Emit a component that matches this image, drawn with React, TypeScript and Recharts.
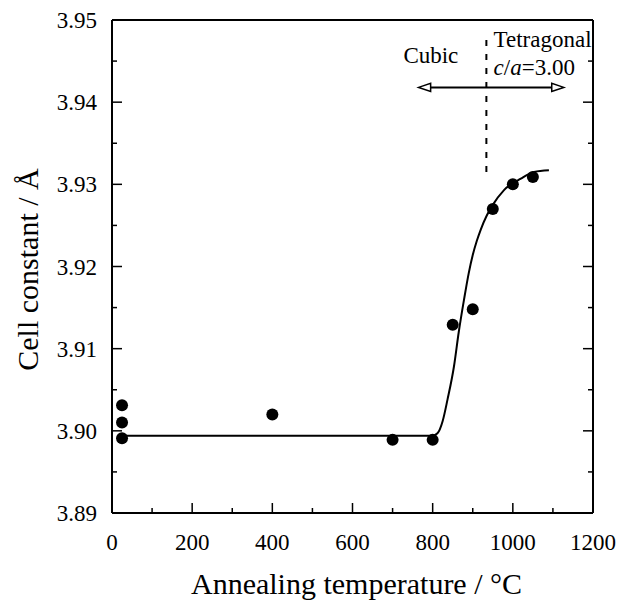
import React from 'react';
import {
  ComposedChart,
  XAxis,
  YAxis,
  Scatter,
  Line,
  ReferenceLine,
  ReferenceDot,
  Label,
} from 'recharts';

// Measured points: annealing temperature (°C) vs cell constant (Å)
const tempC = [25, 25, 25, 400, 700, 800, 850, 900, 950, 1000, 1050];
const cellConst = [3.9031, 3.901, 3.8991, 3.902, 3.8989, 3.8989, 3.9129, 3.9148, 3.927, 3.93, 3.9309];

// Fitted curve
const fitTemp = [25, 800, 812, 825, 837, 853, 865, 878, 890, 900, 910, 920, 935, 950, 978, 1020, 1053, 1090];
const fitConst = [3.8994, 3.8994, 3.8997, 3.9012, 3.9038, 3.9078, 3.912, 3.9159, 3.9192, 3.9214, 3.9231, 3.9245, 3.9262, 3.9275, 3.9293, 3.9307, 3.9315, 3.9317];

// Axes
const xTicks = [0, 100, 200, 300, 400, 500, 600, 700, 800, 900, 1000, 1100, 1200];
const yTicks = [3.89, 3.895, 3.9, 3.905, 3.91, 3.915, 3.92, 3.925, 3.93, 3.935, 3.94, 3.945, 3.95];
const xDomain = [0, 1200];
const yDomain = [3.89, 3.95];

// Annotations
const boundaryTemp = 934;
const boundaryRange = [3.9315, 3.9484];
const arrowTemp = [765, 1127];
const arrowLevel = 3.9418;
const cubicLabel = { t: 727, c: 3.9448, text: 'Cubic' };
const tetraLabel = { t: 952, c: 3.9467, text: 'Tetragonal' };
const ratioLabel = { t: 952, c: 3.9433 };

const scatterData = tempC.map((t, i) => ({ t, c: cellConst[i] }));
const fitData = fitTemp.map((t, i) => ({ t, c: fitConst[i] }));

const FONT = '"Liberation Serif", "Times New Roman", Times, serif';

const XTick = (props: any) => {
  const { x, y, payload } = props;
  const v = payload.value;
  const major = v % 200 === 0;
  return (
    <g>
      <line x1={x} x2={x} y1={y} y2={y - (major ? 10 : 5)} stroke="#000" strokeWidth={1.5} />
      {major && (
        <text x={x} y={y + 37} textAnchor="middle" fontSize={23} fontFamily={FONT} fill="#000">
          {v}
        </text>
      )}
    </g>
  );
};

const isMajorY = (v: number) => Math.round(v * 1000) % 10 === 0;

const YTickLeft = (props: any) => {
  const { x, y, payload } = props;
  const v = payload.value;
  const major = isMajorY(v);
  return (
    <g>
      <line x1={x} x2={x + (major ? 10 : 5)} y1={y} y2={y} stroke="#000" strokeWidth={1.5} />
      {major && (
        <text x={x - 15} y={y + 8} textAnchor="end" fontSize={23} fontFamily={FONT} fill="#000">
          {v.toFixed(2)}
        </text>
      )}
    </g>
  );
};

const YTickRight = (props: any) => {
  const { x, y, payload } = props;
  const major = isMajorY(payload.value);
  return <line x1={x} x2={x - (major ? 10 : 5)} y1={y} y2={y} stroke="#000" strokeWidth={1.5} />;
};

const ArrowShape = (props: any) => {
  const { x1, y1, x2 } = props;
  const y = y1;
  const left = Math.min(x1, x2);
  const right = Math.max(x1, x2);
  const hl = 12;
  const hh = 4;
  return (
    <g>
      <line x1={left + hl} x2={right - hl} y1={y} y2={y} stroke="#000" strokeWidth={2} />
      <polygon
        points={`${left},${y} ${left + hl},${y - hh} ${left + hl},${y + hh}`}
        fill="#fff"
        stroke="#000"
        strokeWidth={1.5}
      />
      <polygon
        points={`${right},${y} ${right - hl},${y - hh} ${right - hl},${y + hh}`}
        fill="#fff"
        stroke="#000"
        strokeWidth={1.5}
      />
    </g>
  );
};

const textShape = (content: React.ReactNode) => (p: any) => (
  <text x={p.cx} y={p.cy} fontSize={23} fontFamily={FONT} fill="#000" textAnchor="start">
    {content}
  </text>
);

const XTitle = (props: any) => {
  const vb = props.viewBox;
  return (
    <text
      x={vb.x + vb.width / 2 + 4}
      y={vb.y + 81}
      textAnchor="middle"
      fontSize={30}
      fontFamily={FONT}
      fill="#000"
    >
      Annealing temperature / °C
    </text>
  );
};

const YTitle = (props: any) => {
  const vb = props.viewBox;
  const cx = vb.x + 38;
  const cy = vb.y + vb.height / 2 + 3;
  return (
    <text
      x={cx}
      y={cy}
      transform={`rotate(-90, ${cx}, ${cy})`}
      textAnchor="middle"
      fontSize={30}
      fontFamily={FONT}
      fill="#000"
    >
      Cell constant / Å
    </text>
  );
};

export default function App() {
  return (
    <div style={{ position: 'absolute', left: 0, top: 0, background: '#fff' }}>
      <ComposedChart width={620} height={600} margin={{ top: 20, right: 0, bottom: 0, left: 0 }}>
        <XAxis
          dataKey="t"
          type="number"
          domain={xDomain}
          ticks={xTicks}
          interval={0}
          tickSize={0}
          tickMargin={0}
          tickLine={false}
          tick={<XTick />}
          axisLine={{ stroke: '#000', strokeWidth: 2 }}
          height={87}
        >
          <Label content={<XTitle />} />
        </XAxis>
        <YAxis
          dataKey="c"
          type="number"
          domain={yDomain}
          ticks={yTicks}
          interval={0}
          tickSize={0}
          tickMargin={0}
          tickLine={false}
          tick={<YTickLeft />}
          axisLine={{ stroke: '#000', strokeWidth: 2 }}
          width={112}
          allowDataOverflow
        >
          <Label content={<YTitle />} />
        </YAxis>
        <YAxis
          yAxisId="right"
          orientation="right"
          type="number"
          domain={yDomain}
          ticks={yTicks}
          interval={0}
          tickSize={0}
          tickMargin={0}
          tickLine={false}
          tick={<YTickRight />}
          axisLine={{ stroke: '#000', strokeWidth: 2 }}
          width={27}
          allowDataOverflow
        />
        <ReferenceLine y={yDomain[1]} stroke="#000" strokeWidth={2} />
        <ReferenceLine
          segment={[
            { x: boundaryTemp, y: boundaryRange[0] },
            { x: boundaryTemp, y: boundaryRange[1] },
          ]}
          stroke="#000"
          strokeWidth={2}
          strokeDasharray="6 8"
        />
        <ReferenceLine
          segment={[
            { x: arrowTemp[0], y: arrowLevel },
            { x: arrowTemp[1], y: arrowLevel },
          ]}
          shape={ArrowShape}
        />
        <ReferenceDot x={cubicLabel.t} y={cubicLabel.c} r={1} shape={textShape(cubicLabel.text)} />
        <ReferenceDot x={tetraLabel.t} y={tetraLabel.c} r={1} shape={textShape(tetraLabel.text)} />
        <ReferenceDot
          x={ratioLabel.t}
          y={ratioLabel.c}
          r={1}
          shape={textShape(
            <>
              <tspan fontStyle="italic">c</tspan>/<tspan fontStyle="italic">a</tspan>=3.00
            </>
          )}
        />
        <Line
          data={fitData}
          dataKey="c"
          type="monotone"
          stroke="#000"
          strokeWidth={2}
          dot={false}
          activeDot={false}
          isAnimationActive={false}
        />
        <Scatter
          data={scatterData}
          dataKey="c"
          fill="#000"
          isAnimationActive={false}
          shape={(p: any) => <circle cx={p.cx} cy={p.cy} r={6} fill="#000" />}
        />
      </ComposedChart>
    </div>
  );
}
